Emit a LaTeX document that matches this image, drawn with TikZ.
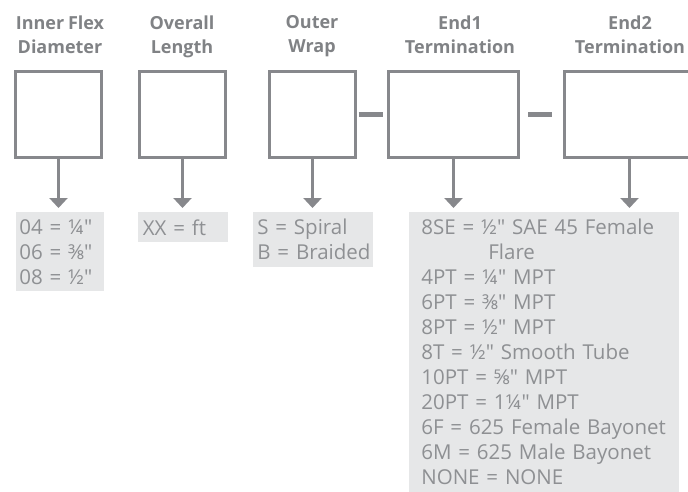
\documentclass[tikz,border=0pt]{standalone}
\usepackage{fontspec}
\setmainfont{Open Sans}[Ligatures=TeXOff, WordSpace=0.8]
\usetikzlibrary{arrows.meta, positioning, calc}
\definecolor{cline}{HTML}{87888C}
\definecolor{chead}{HTML}{808285}
\definecolor{ctext}{HTML}{8E9093}
\definecolor{cfill}{HTML}{E6E7E8}
\tikzset{
  every picture/.style={line width=2.7pt},
  codebox/.style={draw=cline, minimum width=#1, minimum height=86.3pt, inner sep=0pt},
  codebox/.default=86.3pt,
  head/.style={font=\fontsize{18}{24}\selectfont\bfseries, text=chead, align=center, anchor=north, inner sep=0pt},
  optlist/.style 2 args={fill=cfill, text=ctext, font=\fontsize{20.5}{25}\selectfont, align=left, anchor=north west, inner xsep=#1, inner ysep=7pt, text width=#2},
  arrow/.style={-{Triangle[width=18pt,length=10pt]}, draw=cline, line width=2.7pt, shorten >=3pt},
  link/.style={draw=cline, line width=5pt},
}

\begin{document}
\begin{tikzpicture}[x=1pt, y=-1pt]
  \useasboundingbox (0,0) rectangle (688,492);
  \clip (0,0) rectangle (688,492);
  % code boxes
  \node[codebox] (b1) at (58.5,114.5) {};
  \node[codebox] (b2) at (182.5,114.5) {};
  \node[codebox] (b3) at (312.5,114.5) {};
  \node[codebox=130.3pt] (b4) at (453.5,114.5) {};
  \node[codebox=130.3pt] (b5) at (629.5,114.5) {};
  % headings
  \node[head] (h1) at (60,14) {Inner Flex\\Diameter};
  \node[head] (h2) at (182,14) {Overall\\Length};
  \node[head] (h3) at (312,14) {Outer\\Wrap};
  \node[head] (h4) at (460,14) {End1\\Termination};
  \node[head] (h5) at (630,14) {End2\\Termination};
  % option lists
  \node[optlist={3pt}{82pt}] (l1) at (15,211) {04 = ¼"\\06 = ⅜"\\08 = ½"};
  \node[optlist={4.5pt}{81pt}] (l2) at (137,211) {XX = ft};
  \node[optlist={4pt}{112pt}] (l3) at (252,211) {S~=~Spiral\\B~=~Braided};
  \node[optlist={12pt}{246pt}] (l4) at (408,211) {8SE = ½" SAE 45 Female\\
    \hspace*{67pt}Flare\\
    4PT = ¼" MPT\\
    6PT = ⅜" MPT\\
    8PT = ½" MPT\\
    8T = ½" Smooth Tube\\
    10PT = ⅝" MPT\\
    20PT = 1¼" MPT\\
    6F = 625 Female Bayonet\\
    6M = 625 Male Bayonet\\
    NONE = NONE};
  % connectors
  \foreach \b/\l in {b1/l1, b2/l2, b3/l3, b4/l4, b5/l4}
    \draw[arrow] (\b.south) -- (\b.south |- \l.north);
  \draw[link, shorten <=1.6pt, shorten >=4.3pt] (b3.east) -- (b4.west);
  \draw[link, shorten <=8.3pt, shorten >=11.3pt] (b4.east) -- (b5.west);
\end{tikzpicture}
\end{document}
